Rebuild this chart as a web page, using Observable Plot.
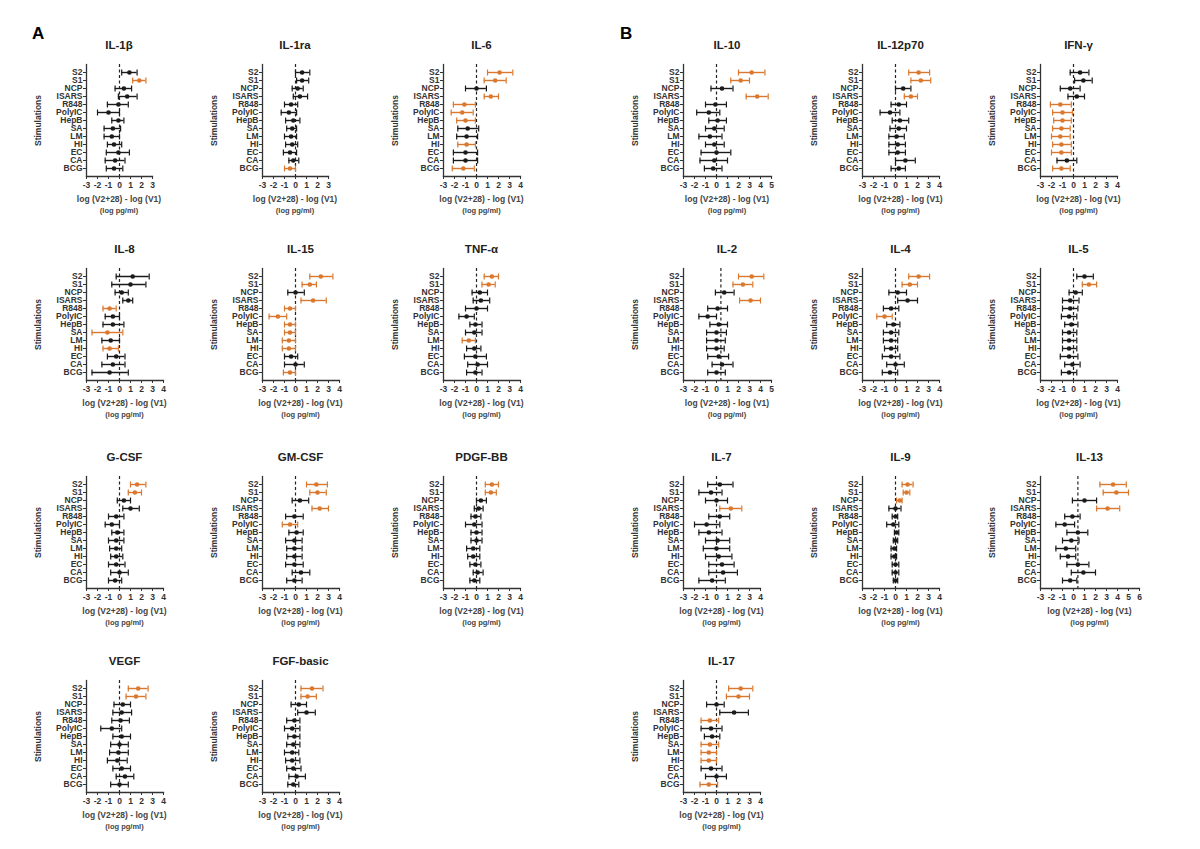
<!DOCTYPE html>
<html><head><meta charset="utf-8">
<script src="https://cdn.jsdelivr.net/npm/d3@7"></script>
<script src="https://cdn.jsdelivr.net/npm/@observablehq/plot@0.6"></script>
<style>
body{margin:0;background:#fff;font-family:"Liberation Sans",Arial,sans-serif;}
#root{position:relative;width:1200px;height:849px;}
.t{position:absolute;font-weight:bold;font-size:11.5px;color:#222;text-align:center;}
.xl{position:absolute;font-weight:bold;color:#444;text-align:center;white-space:nowrap;}
.big{position:absolute;font-weight:bold;font-size:17px;color:#000;}
</style></head><body><div id="root"></div>
<script>
const stims = ["S2","S1","NCP","ISARS","R848","PolyIC","HepB","SA","LM","HI","EC","CA","BCG"];
// [mean, low, high] per stimulation, in stims order
const IL1b = [[0.9,0.2,1.6],[1.8,1.2,2.4],[0.4,-0.4,1.1],[0.7,-0.1,1.6],[-0.1,-1.1,0.8],[-1.0,-2,0],[-0.1,-0.7,0.4],[-0.6,-1.4,0.1],[-0.7,-1.4,0],[-0.5,-1.1,0.2],[-0.1,-1.2,0.9],[-0.4,-1.3,0.5],[-0.5,-1.2,0.3]];
const IL1b_orange = ["S1"];
const IL1ra = [[0.6,0,1.3],[0.6,0.1,1.2],[0.2,-0.3,0.7],[0.4,-0.2,1.1],[-0.4,-1,0.2],[-0.6,-1.3,0.1],[-0.2,-0.9,0.4],[-0.3,-0.8,0.1],[-0.4,-1,0.1],[-0.3,-0.9,0.2],[-0.5,-1.1,0.1],[-0.2,-0.6,0.3],[-0.5,-1,0]];
const IL1ra_orange = ["BCG"];
const IL6 = [[2.1,1,3.3],[1.7,0.7,2.7],[0,-1,0.9],[1.3,0.7,2],[-1.1,-2.1,-0.1],[-1.3,-2.3,-0.3],[-1.0,-1.8,-0.1],[-0.8,-1.7,0.2],[-0.9,-1.8,0.1],[-0.9,-1.7,-0.1],[-1.0,-2.1,0.1],[-1.0,-2.1,0.1],[-1.2,-2.2,-0.2]];
const IL6_orange = ["S2","S1","ISARS","R848","PolyIC","HepB","HI","BCG"];
const IL10 = [[3.2,2,4.4],[2.2,1.3,3],[0.5,-0.5,1.5],[3.7,2.7,4.7],[-0.1,-1,0.9],[-0.7,-1.8,0.3],[0.1,-0.7,0.9],[-0.2,-1,0.7],[-0.6,-1.6,0.5],[-0.2,-1,0.7],[0,-1.4,1.3],[-0.2,-1.5,1],[-0.3,-1.1,0.5]];
const IL10_orange = ["S2","S1","ISARS"];
const IL12 = [[2.1,1.2,3.1],[2.3,1.4,3.2],[0.7,0,1.4],[1.4,0.8,2],[0.3,-0.4,1],[-0.5,-1.4,0.4],[0.4,-0.3,1.2],[0.3,-0.5,1],[0.1,-0.6,0.8],[0.2,-0.6,0.9],[0.2,-0.6,0.9],[0.9,0,1.8],[0.3,-0.4,0.9]];
const IL12_orange = ["S2","S1","ISARS"];
const IFNg = [[0.6,-0.3,1.4],[0.9,0.1,1.7],[-0.3,-1.2,0.6],[0.3,-0.5,1],[-1.2,-2.1,-0.2],[-1,-1.9,-0.1],[-1,-1.8,-0.2],[-1.1,-1.9,-0.3],[-1.2,-2,-0.3],[-1.1,-1.9,-0.2],[-1.1,-2,-0.2],[-0.6,-1.5,0.3],[-1.1,-1.9,-0.3]];
const IFNg_orange = ["R848","PolyIC","HepB","SA","LM","HI","EC","BCG"];
const IL8 = [[1.2,-0.3,2.7],[1,-0.7,2.4],[0.2,-0.4,0.8],[0.8,0.3,1.2],[-0.9,-1.5,-0.3],[-0.6,-1.3,0],[-0.6,-1.5,0.4],[-1.1,-2.5,0.3],[-0.8,-1.6,0],[-0.9,-1.5,-0.1],[-0.3,-1.1,0.5],[-0.6,-1.6,0.5],[-0.9,-2.5,0.8]];
const IL8_orange = ["R848","SA","HI"];
const IL15 = [[2.3,1.3,3.4],[1.3,0.6,1.9],[0,-0.7,0.8],[1.6,0.5,2.8],[-0.5,-1,0],[-1.6,-2.4,-0.8],[-0.5,-1,0],[-0.5,-1,0],[-0.6,-1.2,0],[-0.6,-1.2,0],[-0.4,-1,0.2],[0,-1,0.8],[-0.5,-1.1,0]];
const IL15_orange = ["S2","S1","ISARS","R848","PolyIC","HepB","SA","LM","HI","BCG"];
const TNFa = [[1.4,0.7,2],[1.1,0.5,1.7],[0.3,-0.4,1],[0.4,-0.3,1.2],[0,-1,1],[-0.9,-1.6,-0.2],[-0.1,-0.6,0.5],[-0.2,-1,0.5],[-0.7,-1.3,-0.1],[-0.2,-0.9,0.4],[-0.1,-1.1,0.9],[0.1,-0.8,1],[-0.1,-0.9,0.5]];
const TNFa_orange = ["S2","S1","LM"];
const IL2 = [[3.2,2,4.3],[2.4,1.5,3.3],[0.7,-0.1,1.6],[3.1,2.1,4],[0.1,-0.8,1],[-0.8,-1.6,0],[0.2,-0.6,1],[0,-0.9,0.9],[0,-0.9,0.8],[0,-0.9,0.7],[0.2,-0.8,1.1],[0.5,-0.4,1.5],[0,-0.8,0.8]];
const IL2_orange = ["S2","S1","ISARS"];
const IL4 = [[2.1,1.2,3.1],[1.3,0.6,2],[0.2,-0.6,1],[1.1,0.2,2],[-0.4,-1.1,0.3],[-1,-1.7,-0.3],[-0.2,-0.8,0.4],[-0.4,-1.1,0.3],[-0.4,-1.1,0.2],[-0.4,-1,0.2],[-0.4,-1.2,0.4],[0,-0.8,0.8],[-0.5,-1.2,0.2]];
const IL4_orange = ["S2","S1","PolyIC"];
const IL5 = [[1,0.3,1.8],[1.4,0.8,2.1],[0.2,-0.4,0.8],[-0.3,-1,0.5],[-0.3,-1,0.4],[-0.4,-1.1,0.3],[-0.2,-0.8,0.4],[-0.4,-1,0.3],[-0.4,-1,0.3],[-0.4,-1,0.3],[-0.4,-1.2,0.4],[-0.1,-0.8,0.6],[-0.4,-1.1,0.3]];
const IL5_orange = ["S1"];
const GCSF = [[1.6,1,2.4],[1.4,0.8,2],[0.4,-0.2,1],[1,0.3,1.8],[-0.3,-1,0.4],[-0.7,-1.3,0],[-0.2,-0.7,0.4],[-0.3,-1,0.4],[-0.3,-0.9,0.2],[-0.3,-0.8,0.3],[-0.3,-1,0.5],[0,-0.8,0.8],[-0.4,-1,0.2]];
const GCSF_orange = ["S2","S1"];
const GMCSF = [[1.9,1,2.9],[2,1.3,2.8],[0.4,-0.3,1.2],[2.2,1.5,3],[-0.1,-0.9,0.7],[-0.5,-1.2,0.2],[0.1,-0.6,0.7],[-0.1,-0.9,0.6],[-0.1,-0.8,0.6],[-0.1,-0.8,0.6],[-0.1,-0.9,0.7],[0.5,-0.3,1.3],[-0.1,-0.8,0.6]];
const GMCSF_orange = ["S2","S1","ISARS","PolyIC"];
const PDGF = [[1.4,0.8,2],[1.3,0.8,1.8],[0.4,0,0.9],[0.2,-0.2,0.6],[-0.1,-0.5,0.4],[-0.2,-1,0.5],[0,-0.5,0.5],[0,-0.5,0.5],[-0.3,-0.9,0.3],[-0.3,-0.8,0.3],[-0.1,-0.6,0.4],[0.1,-0.3,0.6],[-0.2,-0.6,0.3]];
const PDGF_orange = ["S2","S1"];
const IL7 = [[0.3,-0.8,1.5],[-0.5,-1.6,0.5],[0,-1,1],[1.3,0.3,2.3],[0.3,-0.7,1.2],[-0.9,-2,0.3],[-0.7,-1.6,0.5],[0.1,-1,1.2],[0,-1.2,1.2],[0.2,-1,1.4],[0.5,-0.7,1.6],[0.6,-0.7,1.9],[-0.4,-1.6,0.8]];
const IL7_orange = ["ISARS"];
const IL9 = [[1.1,0.6,1.6],[1,0.7,1.3],[0.4,0.1,0.6],[0,-0.6,0.5],[0,-0.3,0.2],[-0.2,-0.8,0.3],[0.1,-0.1,0.3],[0,-0.2,0.2],[-0.1,-0.4,0.1],[-0.1,-0.4,0.1],[0,-0.3,0.3],[0,-0.3,0.3],[0,-0.2,0.2]];
const IL9_orange = ["S2","S1","NCP"];
const IL13 = [[3.6,2.4,4.8],[3.9,2.7,5],[1,-0.1,2.1],[3.1,2.1,4.2],[-0.1,-0.8,0.6],[-0.8,-1.6,0.1],[0.4,-0.6,1.3],[-0.2,-1,0.5],[-0.7,-1.6,0.2],[-0.5,-1.2,0.2],[0.4,-0.6,1.4],[0.9,-0.2,2],[-0.3,-1,0.3]];
const IL13_orange = ["S2","S1","ISARS"];
const VEGF = [[1.7,0.8,2.6],[1.5,0.6,2.4],[0.3,-0.5,1],[0.2,-0.6,1.1],[0.1,-0.7,0.9],[-0.7,-1.7,0.2],[0.2,-0.6,1],[0,-0.8,0.8],[-0.1,-0.9,0.8],[-0.2,-1.1,0.7],[0.2,-0.6,1],[0.5,-0.3,1.3],[0,-0.8,0.8]];
const VEGF_orange = ["S2","S1"];
const FGF = [[1.5,0.5,2.5],[1.1,0.5,1.9],[0.3,-0.4,1],[1,0.2,1.8],[-0.1,-0.8,0.4],[-0.3,-1,0.4],[-0.1,-0.7,0.4],[-0.2,-0.8,0.4],[-0.3,-1,0.3],[-0.3,-0.9,0.4],[-0.2,-0.8,0.5],[0.1,-0.6,0.9],[-0.2,-0.7,0.3]];
const FGF_orange = ["S2","S1"];
const IL17 = [[2.2,1.1,3.3],[2,0.9,3],[0,-0.9,0.7],[1.6,0.3,2.9],[-0.6,-1.4,0.2],[-0.5,-1.4,0.5],[-0.4,-1.1,0.3],[-0.6,-1.4,0.2],[-0.7,-1.4,0],[-0.7,-1.4,0],[-0.5,-1.4,0.5],[0,-1,0.9],[-0.7,-1.5,0.1]];
const IL17_orange = ["S2","S1","R848","SA","LM","HI","BCG"];

// name, values, orange, xmax, reference line, column, row
const panels = [
 ["IL-1β",IL1b,IL1b_orange,3,0,0,0],["IL-1ra",IL1ra,IL1ra_orange,3,0,1,0],["IL-6",IL6,IL6_orange,4,0,2,0],
 ["IL-10",IL10,IL10_orange,5,0,3,0],["IL-12p70",IL12,IL12_orange,4,0,4,0],["IFN-γ",IFNg,IFNg_orange,4,0,5,0],
 ["IL-8",IL8,IL8_orange,4,0,0,1],["IL-15",IL15,IL15_orange,4,0,1,1],["TNF-α",TNFa,TNFa_orange,4,0,2,1],
 ["IL-2",IL2,IL2_orange,5,0.4,3,1],["IL-4",IL4,IL4_orange,4,0,4,1],["IL-5",IL5,IL5_orange,4,0,5,1],
 ["G-CSF",GCSF,GCSF_orange,4,0,0,2],["GM-CSF",GMCSF,GMCSF_orange,4,0,1,2],["PDGF-BB",PDGF,PDGF_orange,4,0,2,2],
 ["IL-7",IL7,IL7_orange,4,0,3,2],["IL-9",IL9,IL9_orange,4,0,4,2],["IL-13",IL13,IL13_orange,6,0.4,5,2],
 ["VEGF",VEGF,VEGF_orange,4,0,0,3],["FGF-basic",FGF,FGF_orange,4,0,1,3],["IL-17",IL17,IL17_orange,4,0,3,3]
];
const colX = [86,262,443,683,862,1040];
const rowY = [70,274,482,686];

const root = document.getElementById("root");
const ORANGE = "#d9782e", BLACK = "#1a1a1a";
const cap = {draw(ctx, size){const h = Math.sqrt(size/Math.PI); ctx.moveTo(0,-h); ctx.lineTo(0,h);}};
const PX = 11, ML = 62;

function add(html, cls, style){const d=document.createElement("div"); d.className=cls; d.innerHTML=html; Object.assign(d.style,style); root.appendChild(d); return d;}
add("A","big",{left:"32px",top:"24px"});
add("B","big",{left:"620px",top:"24px"});

for (const [name, vals, orange, xmax, ref, c, r] of panels) {
  const rows = stims.map((s,i)=>({stim:s, m:vals[i][0], lo:vals[i][1], hi:vals[i][2], col: orange.includes(s)?ORANGE:BLACK}));
  const span = (xmax + 3) * PX;
  const left = colX[c] - ML, top = rowY[r] - 10;
  const svg = Plot.plot({
    width: ML + span + 14, height: 134, marginLeft: ML, marginRight: 14, marginTop: 4, marginBottom: 18,
    style: {fontFamily: "Liberation Sans, Arial, sans-serif", fontWeight: "bold", color: "#333", background: "transparent"},
    x: {domain: [-3, xmax], range: [ML, ML + span]},
    y: {type: "point", domain: stims, range: [10, 10 + 12 * 8.4], padding: 0},
    marks: [
      Plot.frame({anchor: "bottom", stroke: "#333", strokeWidth: 1.3}),
      Plot.frame({anchor: "left", stroke: "#333", strokeWidth: 1.3}),
      Plot.axisX({ticks: d3.range(-3, xmax + 1), tickFormat: d => String(d), tickSize: 3, fontSize: 8.5, label: null, tickPadding: 2}),
      Plot.axisY({tickSize: 3, fontSize: 8.5, tickPadding: 1, label: "Stimulations", labelAnchor: "center", labelOffset: 52, labelArrow: "none"}),
      Plot.ruleX([ref], {stroke: "#222", strokeWidth: 1.2, strokeDasharray: "3,2.5"}),
      Plot.ruleY(rows, {y: "stim", x1: "lo", x2: "hi", stroke: "col", strokeWidth: 1.4}),
      Plot.dot(rows, {x: "lo", y: "stim", symbol: cap, r: 3, stroke: "col", strokeWidth: 1.2}),
      Plot.dot(rows, {x: "hi", y: "stim", symbol: cap, r: 3, stroke: "col", strokeWidth: 1.2}),
      Plot.dot(rows, {x: "m", y: "stim", r: 2.3, fill: "col", stroke: null})
    ]
  });
  svg.style.position = "absolute"; svg.style.left = left + "px"; svg.style.top = top + "px";
  root.appendChild(svg);
  const cx = colX[c] + span/2;
  add(name, "t", {left: (cx-60)+"px", width: "120px", top: (rowY[r]-31)+"px"});
  add("log (V2+28) - log (V1)", "xl", {left: (cx-70)+"px", width:"140px", top: (top+134)+"px", fontSize: "8.5px"});
  add("(log pg/ml)", "xl", {left: (cx-70)+"px", width:"140px", top: (top+146)+"px", fontSize: "7.5px"});
}
</script></body></html>
